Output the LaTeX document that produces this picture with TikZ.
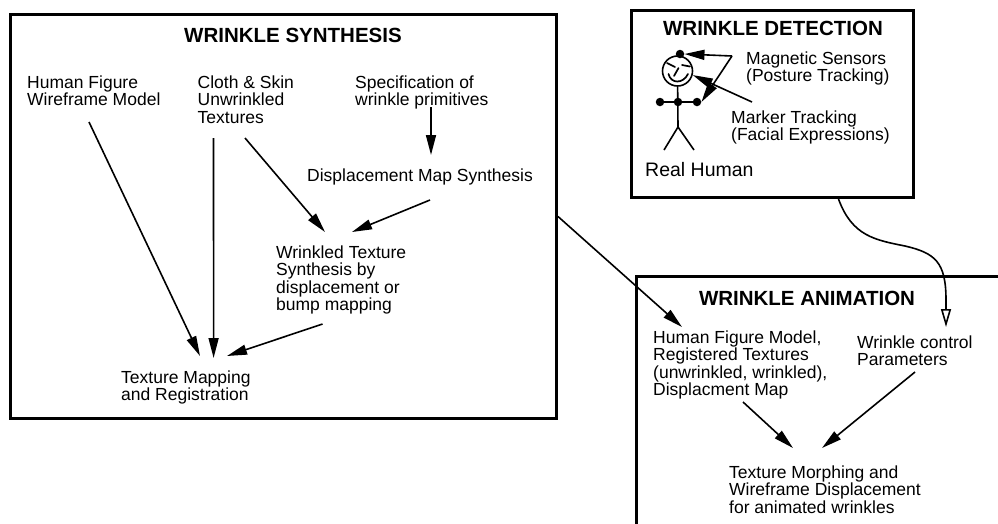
\documentclass[tikz,border=0pt]{standalone}
\usepackage{fontspec}
\setmainfont{Liberation Sans}
\usetikzlibrary{arrows.meta}
\begin{document}
\begin{tikzpicture}[x=1pt,y=-1pt,
  frame/.style={draw, line width=3pt, inner sep=0pt, anchor=north west},
  label/.style={anchor=north west, inner sep=0pt, align=left,
    font=\fontsize{17.5}{17.5}\selectfont},
  heading/.style={inner sep=0pt, font=\fontsize{20.5}{22}\selectfont\bfseries},
  flow/.style={line width=1.6pt, -{Triangle[length=20pt,width=10pt]}},
  feed/.style={line width=1.6pt, -{Triangle[open,length=18pt,width=10pt]}},
  fig/.style={line width=1.6pt},
  face/.style={line width=1.7pt, line cap=round},
  dot/.style={circle, fill, inner sep=0pt, minimum size=8.5pt}
]
\clip (0,0) rectangle (998,523);

% ---- frames ----
\node[frame, minimum width=546pt, minimum height=404pt] (synth) at (9,13) {};
\node[frame, minimum width=282pt, minimum height=187pt] (detect) at (630,9) {};
\node[frame, minimum width=420pt, minimum height=300pt] (anim) at (635,275) {};

% ---- wrinkle synthesis ----
\node[heading] (tsynth) at (293,35) {WRINKLE SYNTHESIS};
\node[label] (human) at (27,75.5) {Human Figure\\Wireframe Model};
\node[label] (cloth) at (197.5,75.5) {Cloth \& Skin\\Unwrinkled\\Textures};
\node[label] (spec) at (355,75.5) {Specification of\\wrinkle primitives};
\node[label] (dms) at (307,168.5) {Displacement Map Synthesis};
\node[label] (wts) at (276,245.5) {Wrinkled Texture\\Synthesis by\\displacement or\\bump mapping};
\node[label] (tmr) at (121,370.5) {Texture Mapping\\and Registration};

\draw[flow] ([shift={(76,31.5)}]spec.north west) -- ([shift={(124,-13.5)}]dms.north west);
\draw[flow] ([shift={(123,31.5)}]dms.north west) -- ([shift={(76,-13.5)}]wts.north west);
\draw[flow] ([shift={(47.5,62.5)}]cloth.north west) -- ([shift={(49,-13.5)}]wts.north west);
\draw[flow] ([shift={(46.5,78.5)}]wts.north west) -- ([shift={(106,-14.5)}]tmr.north west);
\draw[flow] ([shift={(62,46.5)}]human.north west) -- ([shift={(79,-14.5)}]tmr.north west);
\draw[flow] ([shift={(16,62.5)}]cloth.north west) -- ([shift={(92.6,-12.5)}]tmr.north west);

% ---- wrinkle detection ----
\node[heading] (tdetect) at (773,28) {WRINKLE DETECTION};
\node[label] (mag) at (746,51.5) {Magnetic Sensors\\(Posture Tracking)};
\node[label] (marker) at (731,110.5) {Marker Tracking\\(Facial Expressions)};
\node[anchor=west, inner sep=0pt, font=\fontsize{19.5}{21}\selectfont] (real) at (645,170) {Real Human};

% stick figure
\node[circle, draw, fig, minimum size=30pt, inner sep=0pt] (head) at (677.5,71) {};
\node[dot] (hdot) at (680,54) {};
\node[dot] (lhand) at (660,102) {};
\node[dot] (chest) at (678,102) {};
\node[dot] (rhand) at (697,102) {};
\coordinate (hip) at (678,127);
\coordinate (lfoot) at (664,150);
\coordinate (rfoot) at (694,150);
\draw[fig] (lhand) -- (rhand);
\draw[fig] (head) -- (hip);
\draw[fig] (lfoot) -- (hip) -- (rfoot);
% face
\draw[face] (667,63) -- (675,67);
\draw[face] (682,65) -- (690,66.5);
\draw[face] (678.5,68) -- (674,76);
\draw[face] (668.5,74) .. controls (671,84) and (683,84) .. (688,74);

\draw[flow] ([shift={(-14,4.5)}]mag.north west) -- (hdot.east);
\draw[flow] ([shift={(-14,4.5)}]mag.north west) -- (rhand.east);
\draw[flow] ([shift={(21,-8.5)}]marker.north west) -- (head.-15);

% ---- wrinkle animation ----
\node[heading] (tanim) at (807,298) {WRINKLE ANIMATION};
\node[label] (hfm) at (653,330.5) {Human Figure Model,\\Registered Textures\\(unwrinkled, wrinkled),\\Displacment Map};
\node[label] (wcp) at (857,335.5) {Wrinkle control\\Parameters};
\node[label] (tmw) at (729,465.5) {Texture Morphing and\\Wireframe Displacement\\for animated wrinkles};

\draw[flow] ([shift={(90,71.5)}]hfm.north west) -- ([shift={(64,-17.5)}]tmw.north west);
\draw[flow] ([shift={(58,36.5)}]wcp.north west) -- ([shift={(93,-17.5)}]tmw.north west);

% ---- links between the stages ----
\draw[flow] (synth.east) -- ([shift={(29,-3.5)}]hfm.north west);
\draw[feed] ([xshift=66pt]detect.south)
  .. controls (852,236) and (875,240) .. (905,246)
  .. controls (935,253) and (946,262) .. (946,300)
  -- ([shift={(89,-8.5)}]wcp.north west);
\end{tikzpicture}
\end{document}
